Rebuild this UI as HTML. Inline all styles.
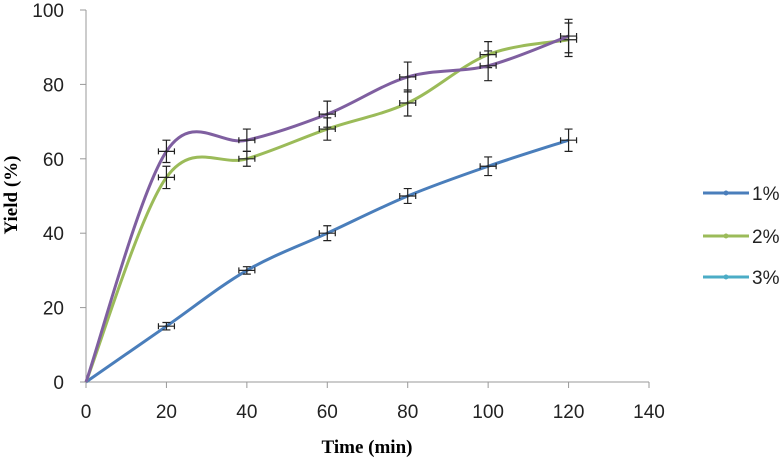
<!DOCTYPE html>
<html><head><meta charset="utf-8"><style>
body{margin:0;background:#fff;}
svg{display:block;font-family:"Liberation Sans",sans-serif;}
</style></head><body>
<svg id="chart" width="781" height="459">
<g id="axes"></g><g id="series"></g><g id="legend"></g>
<text x="367" y="453" text-anchor="middle" font-family="Liberation Serif" font-weight="bold" font-size="19">Time (min)</text>
<text transform="translate(17,195) rotate(-90)" text-anchor="middle" font-family="Liberation Serif" font-weight="bold" font-size="19">Yield (%)</text>
</svg>
<script>
const xs=[0,20,40,60,80,100,120];
const s1=[0,15,30,40,50,58,65];
const s2=[0,55,60,68,75,88,92];
const s3=[0,62,65,72,82,85,93];
const e1=[0,1,1,2,2,2.5,3];
const e2=[0,3,2,3,3.5,3.5,4.5];
const e3=[0,3,3,3.5,4,4,4.5];
const xTicks=[0,20,40,60,80,100,120,140];
const yTicks=[0,20,40,60,80,100];
const names=["1%","2%","3%"];
const NS="http://www.w3.org/2000/svg";
const X=v=>86+v*(649-86)/140, Y=v=>382-v*(382-10)/100;
function el(t,a,p){const e=document.createElementNS(NS,t);for(const k in a)e.setAttribute(k,a[k]);p.appendChild(e);return e;}
const ax=document.getElementById('axes'),se=document.getElementById('series'),lg=document.getElementById('legend');
let l=el('line',{x1:86,y1:382,x2:649,y2:382,stroke:'#999'},ax);

l=el('line',{x1:86,y1:10,x2:86,y2:382,stroke:'#999'},ax);

xTicks.forEach(v=>{el('line',{x1:X(v),y1:382,x2:X(v),y2:388,stroke:'#999'},ax);
 const t=el('text',{x:X(v),y:418,'text-anchor':'middle','font-size':19,fill:'#222'},ax);t.textContent=v;
 });
yTicks.forEach(v=>{el('line',{x1:80,y1:Y(v),x2:86,y2:Y(v),stroke:'#999'},ax);
 const t=el('text',{x:64,y:Y(v)+7,'text-anchor':'end','font-size':19,fill:'#222'},ax);t.textContent=v;
 });
function path(vals){const p=xs.map((x,i)=>[X(x),Y(vals[i])]);let d=`M${p[0][0]},${p[0][1]}`;const k=1/3;
 for(let i=0;i<p.length-1;i++){const p0=p[Math.max(0,i-1)],p1=p[i],p2=p[i+1],p3=p[Math.min(p.length-1,i+2)];
 d+=` C${p1[0]+(p2[0]-p0[0])*k/2},${p1[1]+(p2[1]-p0[1])*k/2} ${p2[0]-(p3[0]-p1[0])*k/2},${p2[1]-(p3[1]-p1[1])*k/2} ${p2[0]},${p2[1]}`;}return d;}
const series=[[s1,e1,'#4a7ebb'],[s2,e2,'#9bbb59'],[s3,e3,'#7f5fa0']];
series.forEach(([v,e,c],si)=>{const p=el('path',{d:path(v),fill:'none',stroke:c,'stroke-width':3},se);
 
 xs.forEach((x,i)=>{if(!e[i])return;const cx=X(x),t=Y(v[i]+e[i]),b=Y(v[i]-e[i]);
  const g=el('path',{d:`M${cx},${t}V${b}M${cx-4},${t}H${cx+4}M${cx-4},${b}H${cx+4}M${cx-8},${Y(v[i])}H${cx+8}M${cx-8},${Y(v[i])-3}V${Y(v[i])+3}M${cx+8},${Y(v[i])-3}V${Y(v[i])+3}`,stroke:'#222','stroke-width':1.2,fill:'none'},se);
  });});
const lc=['#4a7ebb','#9bbb59','#4bacc6'];
const ly=[193,236,277];
names.forEach((n,i)=>{const y=ly[i];const ln=el('line',{x1:703,y1:y,x2:749,y2:y,stroke:lc[i],'stroke-width':3},lg);
 
 el('circle',{cx:726,cy:y,r:2.5,fill:lc[i]},lg);
 const t=el('text',{x:752,y:y+7,'font-size':19,fill:'#222'},lg);t.textContent=n;
 });
</script>
</body></html>
